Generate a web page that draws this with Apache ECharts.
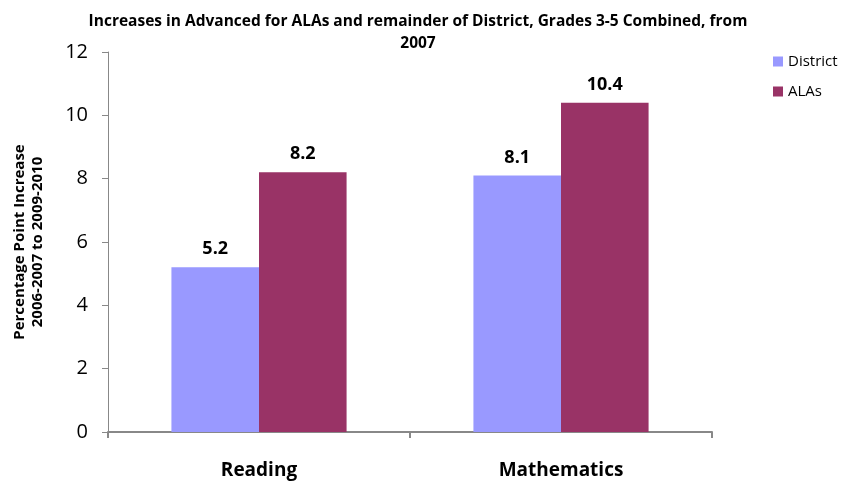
<!DOCTYPE html>
<html>
<head>
<meta charset="utf-8">
<script src="https://cdn.jsdelivr.net/npm/echarts@6/dist/echarts.min.js"></script>
<style>
  html, body { margin: 0; padding: 0; background: #fff; }
  #chart { width: 844px; height: 483px; }
</style>
</head>
<body>
<div id="chart"></div>
<script>
var categories = ['Reading', 'Mathematics'];
var districtValues = [5.2, 8.1];
var alaValues = [8.2, 10.4];

var myChart = echarts.init(document.getElementById('chart'));

var labelStyle = {
  show: true,
  position: 'top',
  fontFamily: 'Open Sans',
  fontWeight: 'bold',
  fontSize: 18,
  color: '#000',
  distance: 9
};

option = {
  animation: false,
  title: {
    text: 'Increases in Advanced for ALAs and remainder of District, Grades 3-5 Combined, from\n2007',
    left: 413,
    top: 6,
    textAlign: 'center',
    textStyle: {
      fontFamily: 'Open Sans',
      fontWeight: 'bold',
      fontSize: 15.5,
      lineHeight: 22,
      color: '#000'
    }
  },
  legend: {
    orient: 'vertical',
    left: 768,
    top: 49,
    itemWidth: 10,
    itemHeight: 10,
    itemGap: 15,
    icon: 'rect',
    textStyle: { fontFamily: 'Open Sans', fontSize: 15, color: '#000' }
  },
  grid: {
    left: 108,
    right: 132,
    top: 52,
    bottom: 51,
    outerBoundsMode: 'none'
  },
  xAxis: {
    type: 'category',
    data: categories,
    axisLine: { lineStyle: { color: '#888', width: 2 } },
    axisTick: { show: true, length: 6, lineStyle: { color: '#888', width: 2 } },
    axisLabel: {
      fontFamily: 'Open Sans',
      fontWeight: 'bold',
      fontSize: 19,
      color: '#000',
      margin: 29
    }
  },
  yAxis: {
    type: 'value',
    min: 0,
    max: 12,
    interval: 2,
    name: 'Percentage Point Increase\n2006-2007 to 2009-2010',
    nameLocation: 'middle',
    nameGap: 61,
    nameTextStyle: {
      fontFamily: 'Open Sans',
      fontWeight: 'bold',
      fontSize: 15,
      lineHeight: 18,
      color: '#000'
    },
    axisLine: { show: true, lineStyle: { color: '#888', width: 1 } },
    axisTick: { show: true, length: 6, lineStyle: { color: '#888' } },
    splitLine: { show: false },
    axisLabel: {
      fontFamily: 'Open Sans',
      fontSize: 20,
      color: '#000',
      margin: 20
    }
  },
  series: [
    {
      name: 'District',
      type: 'bar',
      data: districtValues,
      barGap: '0%',
      barCategoryGap: '42%',
      itemStyle: { color: '#9999FF' },
      label: labelStyle
    },
    {
      name: 'ALAs',
      type: 'bar',
      data: alaValues,
      itemStyle: { color: '#993366' },
      label: labelStyle
    }
  ]
};

myChart.setOption(option);
</script>
</body>
</html>
